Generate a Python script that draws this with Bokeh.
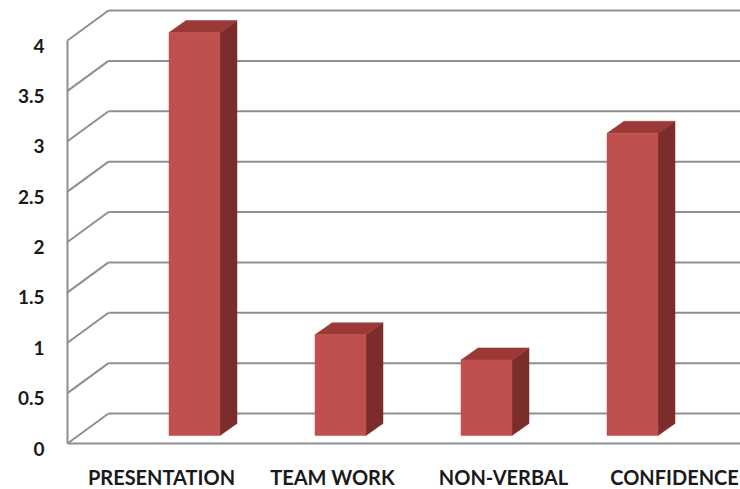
import numpy as np
from bokeh.plotting import figure
from bokeh.models import Range1d
from bokeh.core.properties import value
from bokeh.embed import file_html
from bokeh.resources import INLINE

# ---- data ----
categories = ["PRESENTATION", "TEAM WORK", "NON-VERBAL", "CONFIDENCE"]
scores = [4.0, 1.0, 0.75, 3.0]
y_ticks = [0, 0.5, 1, 1.5, 2, 2.5, 3, 3.5, 4]
y_tick_labels = ["0", "0.5", "1", "1.5", "2", "2.5", "3", "3.5", "4"]

# ---- layout (pixels) ----
W, H = 740, 489
UNIT = 100.75            # px per value unit
FRONT_ZERO_PX = 443      # pixel row of value 0 on the front wall
WALL_X = 67              # front-left wall edge
WALL_DX, WALL_DY = 41, 30
BAR_DX, BAR_DY = 11, 8   # bar front plane depth
BAR_W = 51
BAR_DEPTH_X, BAR_DEPTH_Y = 17, 12
BAR_X0, BAR_STEP = 194, 146
LABEL_X0, LABEL_STEP = 161, 171

GRID = "#8f8f8f"
FRONT = "#C0504D"
TOP = "#9A3936"
SIDE = "#7B2D2B"
TEXT = "#1a1a1a"
FONT = value("Lato")

y_lo = (FRONT_ZERO_PX - H) / UNIT
y_hi = FRONT_ZERO_PX / UNIT

p = figure(width=W, height=H, x_range=Range1d(0, W), y_range=Range1d(y_lo, y_hi),
           x_axis_type=None, y_axis_type=None, toolbar_location=None,
           output_backend="svg", min_border=0, outline_line_color=None)
p.background_fill_color = "white"

ticks = np.array(y_ticks, dtype=float)
wdv = WALL_DY / UNIT

# back wall gridlines
p.segment(x0=WALL_X + WALL_DX, y0=ticks + wdv, x1=W, y1=ticks + wdv,
          line_color=GRID, line_width=2)
# left wall diagonals
p.segment(x0=WALL_X, y0=ticks, x1=WALL_X + WALL_DX, y1=ticks + wdv,
          line_color=GRID, line_width=2)
# front-left vertical edge
p.segment(x0=[WALL_X], y0=[ticks.min()], x1=[WALL_X], y1=[ticks.max()],
          line_color=GRID, line_width=2)
# front floor edge
p.segment(x0=[WALL_X], y0=[0], x1=[W], y1=[0], line_color=GRID, line_width=2)

# bars
idx = np.arange(len(categories))
vals = np.array(scores, dtype=float)
cx = BAR_X0 + idx * BAR_STEP
left = cx - BAR_W / 2
right = cx + BAR_W / 2
bot = np.full(len(vals), BAR_DY / UNIT)
top = vals + BAR_DY / UNIT
ddy = BAR_DEPTH_Y / UNIT

side_xs = [[r, r + BAR_DEPTH_X, r + BAR_DEPTH_X, r] for r in right]
side_ys = [[b, b + ddy, t + ddy, t] for b, t in zip(bot, top)]
p.patches(xs=side_xs, ys=side_ys, fill_color=SIDE, line_color=SIDE, line_width=0.5)

top_xs = [[l, r, r + BAR_DEPTH_X, l + BAR_DEPTH_X] for l, r in zip(left, right)]
top_ys = [[t, t, t + ddy, t + ddy] for t in top]
p.patches(xs=top_xs, ys=top_ys, fill_color=TOP, line_color=TOP, line_width=0.5)

p.quad(left=left, right=right, bottom=bot, top=top,
       fill_color=FRONT, line_color=FRONT, line_width=0.5)

# y tick labels
p.text(x=np.full(len(ticks), 44), y=ticks - 5 / UNIT, text=y_tick_labels,
       text_align="right", text_baseline="middle", text_font=FONT,
       text_font_style="bold", text_font_size="19px", text_color=TEXT)

# category labels
p.text(x=LABEL_X0 + idx * LABEL_STEP, y=np.full(len(idx), -33 / UNIT), text=categories,
       text_align="center", text_baseline="middle", text_font=FONT,
       text_font_style="bold", text_font_size="20px", text_color=TEXT)

open("out.html", "w").write(file_html(p, INLINE))
